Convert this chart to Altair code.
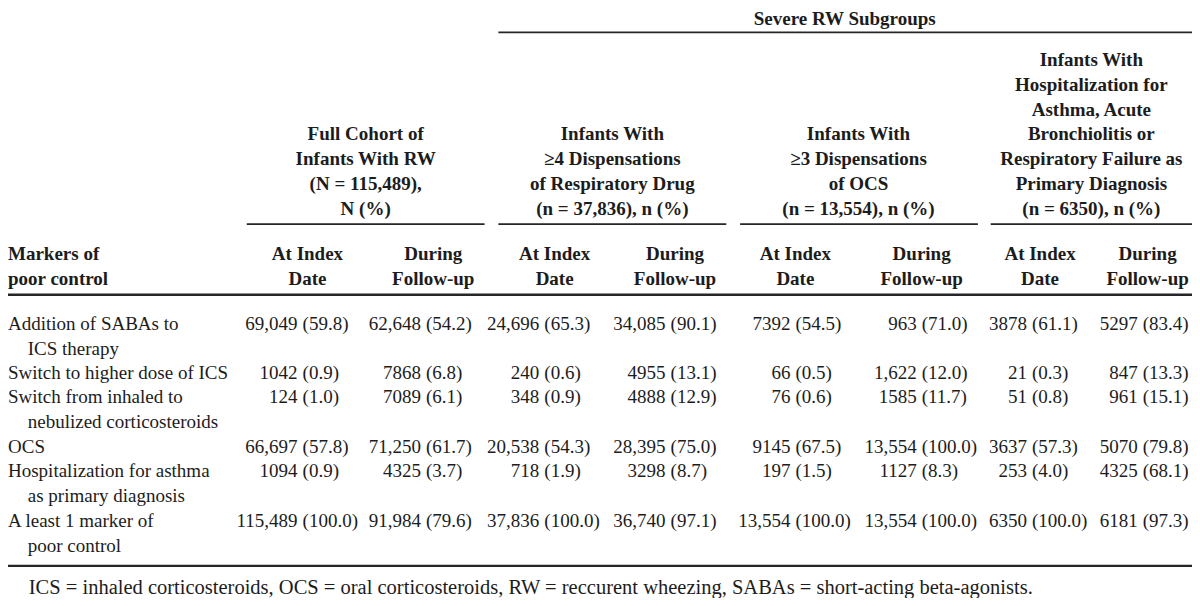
import altair as alt
import pandas as pd

# ---------------- data ----------------
marker_labels = [
    ["Addition of SABAs to", "ICS therapy"],
    ["Switch to higher dose of ICS"],
    ["Switch from inhaled to", "nebulized corticosteroids"],
    ["OCS"],
    ["Hospitalization for asthma", "as primary diagnosis"],
    ["A least 1 marker of", "poor control"],
]
full_index = ["69,049 (59.8)", "1042 (0.9)", "124 (1.0)", "66,697 (57.8)", "1094 (0.9)", "115,489 (100.0)"]
full_follow = ["62,648 (54.2)", "7868 (6.8)", "7089 (6.1)", "71,250 (61.7)", "4325 (3.7)", "91,984 (79.6)"]
resp_index = ["24,696 (65.3)", "240 (0.6)", "348 (0.9)", "20,538 (54.3)", "718 (1.9)", "37,836 (100.0)"]
resp_follow = ["34,085 (90.1)", "4955 (13.1)", "4888 (12.9)", "28,395 (75.0)", "3298 (8.7)", "36,740 (97.1)"]
ocs_index = ["7392 (54.5)", "66 (0.5)", "76 (0.6)", "9145 (67.5)", "197 (1.5)", "13,554 (100.0)"]
ocs_follow = ["963 (71.0)", "1,622 (12.0)", "1585 (11.7)", "13,554 (100.0)", "1127 (8.3)", "13,554 (100.0)"]
hosp_index = ["3878 (61.1)", "21 (0.3)", "51 (0.8)", "3637 (57.3)", "253 (4.0)", "6350 (100.0)"]
hosp_follow = ["5297 (83.4)", "847 (13.3)", "961 (15.1)", "5070 (79.8)", "4325 (68.1)", "6181 (97.3)"]
value_columns = [full_index, full_follow, resp_index, resp_follow,
                 ocs_index, ocs_follow, hosp_index, hosp_follow]

spanner = "Severe RW Subgroups"
group_headers = [
    ["Full Cohort of", "Infants With RW", "(N = 115,489),", "N (%)"],
    ["Infants With", "≥4 Dispensations", "of Respiratory Drug", "(n = 37,836), n (%)"],
    ["Infants With", "≥3 Dispensations", "of OCS", "(n = 13,554), n (%)"],
    ["Infants With", "Hospitalization for", "Asthma, Acute", "Bronchiolitis or",
     "Respiratory Failure as", "Primary Diagnosis", "(n = 6350), n (%)"],
]
stub_header = ["Markers of", "poor control"]
sub_headers = [["At Index", "Date"], ["During", "Follow-up"]] * 4
footnote = ("ICS = inhaled corticosteroids, OCS = oral corticosteroids, "
            "RW = reccurent wheezing, SABAs = short-acting beta-agonists.")

# ---------------- layout (reference pixel units) ----------------
FS = 19
FOOT_FS = 20.5
LINE = 25.4
col_anchor = [293.5, 418.5, 538.5, 666.5, 793, 921, 1032.7, 1145]
col_center = [303.5, 431, 554, 676, 798, 926, 1046, 1155]
group_center = [362.5, 612.5, 862, 1098]
group_rule = [(242, 483), (497, 728), (742, 983), (996, 1200)]
row_y = [325, 375, 400, 451, 476, 527]
header_last_y = 206
sub_y = 252.5
indent = 20

bold_center, bold_left, plain_left, num_right, pct_left = [], [], [], [], []

bold_center.append({"x": 848, "y": 11, "text": spanner})
for g, lines in enumerate(group_headers):
    n = len(lines)
    for i, t in enumerate(lines):
        bold_center.append({"x": group_center[g],
                            "y": header_last_y - (n - 1 - i) * LINE, "text": t})
for c, lines in enumerate(sub_headers):
    for i, t in enumerate(lines):
        bold_center.append({"x": col_center[c], "y": sub_y + i * 25.5, "text": t})
for i, t in enumerate(stub_header):
    bold_left.append({"x": 0, "y": sub_y + i * 25.5, "text": t})

for r, lines in enumerate(marker_labels):
    for i, t in enumerate(lines):
        plain_left.append({"x": 0 if i == 0 else indent,
                           "y": row_y[r] + i * LINE, "text": t})
foot_rows = [{"x": 21, "y": 596, "text": footnote}]

for c, col in enumerate(value_columns):
    for r, cell in enumerate(col):
        num, pct = cell.split(" ", 1)
        num_right.append({"x": col_anchor[c], "y": row_y[r], "text": num})
        pct_left.append({"x": col_anchor[c], "y": row_y[r], "text": pct})

rules = [{"x": 497, "x2": 1200, "y": 25, "w": 1.8},
         {"x": 0, "x2": 1200, "y": 294.5, "w": 2.6},
         {"x": 0, "x2": 1200, "y": 573, "w": 2.2}]
for a, b in group_rule:
    rules.append({"x": a, "x2": b, "y": 222, "w": 1.8})

xs = alt.Scale(domain=[0, 1200], range=[0, 1184], nice=False, zero=False)
ys = alt.Scale(domain=[0, 606], range=[0, 590], nice=False, zero=False)
INK = "#1c1c1c"


def text_layer(rows, align, weight, dx=0, size=FS):
    return alt.Chart(pd.DataFrame(rows)).mark_text(
        align=align, baseline="middle", font="Liberation Serif",
        fontSize=size, fontWeight=weight, color=INK, dx=dx
    ).encode(
        x=alt.X("x:Q", scale=xs, axis=None),
        y=alt.Y("y:Q", scale=ys, axis=None),
        text="text:N",
    )


rule_layer = alt.Chart(pd.DataFrame(rules)).mark_rule(color="#262626").encode(
    x=alt.X("x:Q", scale=xs, axis=None),
    x2="x2:Q",
    y=alt.Y("y:Q", scale=ys, axis=None),
    strokeWidth=alt.StrokeWidth("w:Q", scale=None),
)

chart = alt.layer(
    rule_layer,
    text_layer(bold_center, "center", "bold"),
    text_layer(bold_left, "left", "bold"),
    text_layer(plain_left, "left", "normal"),
    text_layer(num_right, "right", "normal"),
    text_layer(pct_left, "left", "normal", dx=5),
    text_layer(foot_rows, "left", "normal", size=FOOT_FS),
).properties(
    width=1184, height=590, padding=0,
    autosize=alt.AutoSizeParams(type="none"),
    background="white",
).configure_view(stroke=None)

chart.save("out.html", embed_options={"renderer": "svg", "actions": False})
